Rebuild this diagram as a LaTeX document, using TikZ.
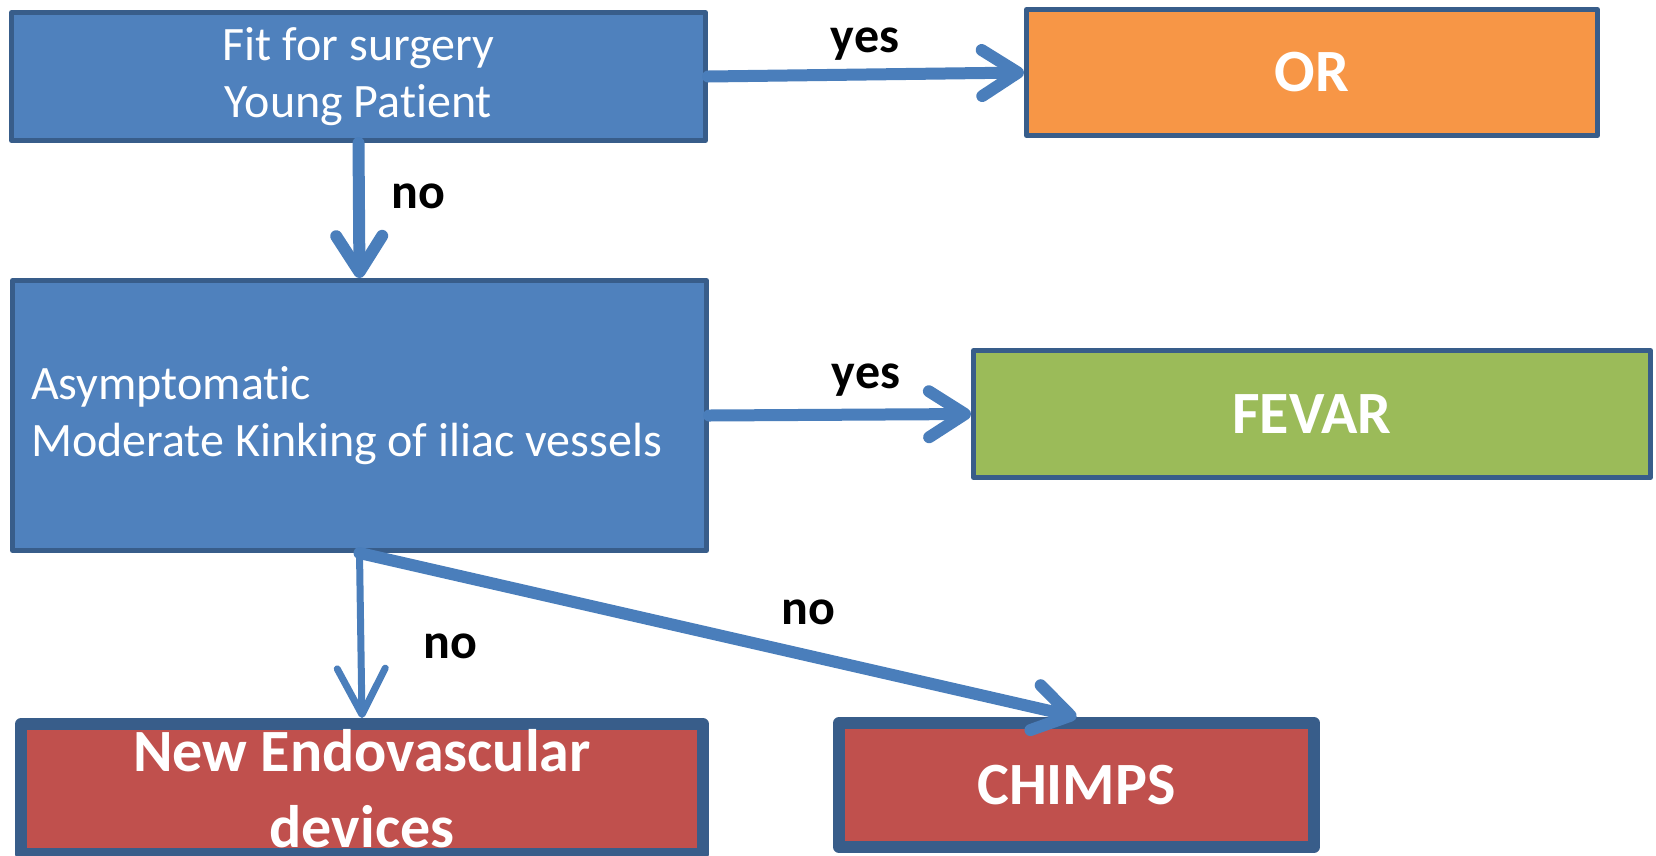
\documentclass[tikz,border=0pt]{standalone}
\usepackage{fontspec}
\setmainfont{Carlito}[RawFeature={-liga,-clig,-calt,-dlig}]
\usetikzlibrary{arrows.meta}
\definecolor{boxblue}{rgb}{0.31,0.506,0.741}
\definecolor{edgeblue}{rgb}{0.22,0.365,0.541}
\definecolor{arrowblue}{rgb}{0.29,0.494,0.733}
\definecolor{orng}{rgb}{0.969,0.588,0.275}
\definecolor{grn}{rgb}{0.608,0.733,0.349}
\definecolor{rd}{rgb}{0.753,0.314,0.302}

\begin{document}
\begin{tikzpicture}[line cap=round,line join=round,x=1pt,y=-1pt,
	qbox/.style={draw=edgeblue,line width=5pt,fill=boxblue,text=white,inner sep=0pt,font=\fontsize{48}{57}\selectfont,execute at begin node={\spaceskip=0pt\xspaceskip=0pt\relax}},
	ansbox/.style={draw=edgeblue,line width=5pt,text=white,inner sep=0pt,font=\bfseries\fontsize{60}{72}\selectfont},
	devbox/.style={ansbox,line width=12pt,fill=rd},
	conn/.style={draw=arrowblue,line width=12pt,-{Straight Barb[round,length=36pt,width=46pt]}},
	lbl/.style={anchor=base,font=\bfseries\fontsize{50}{60}\selectfont}]
	\useasboundingbox (0,0) rectangle (1656,855);
	% questions
	\node[qbox,minimum width=694pt,minimum height=128pt,align=center] (fit) at (358.5,76.5) {Fit for surgery\\Young Patient};
	\node[qbox,minimum width=694pt,minimum height=270pt,text width=657pt,align=left] (asym) at (359.5,415.5) {Asymptomatic\\Moderate Kinking of iliac vessels};
	% answers
	\node[ansbox,fill=orng,minimum width=571pt,minimum height=126pt] (or) at (1312,72.5) {OR};
	\node[ansbox,fill=grn,minimum width=677pt,minimum height=127pt] (fevar) at (1312,414) {FEVAR};
	\node[devbox,minimum width=682pt,minimum height=130pt,align=center,font=\bfseries\fontsize{60}{76}\selectfont] (newdev) at (362,789) {New Endovascular\\devices};
	\node[devbox,minimum width=475pt,minimum height=124pt] (chimps) at (1076.5,785) {CHIMPS};

	\draw[conn] (fit.east) -- (or.west);
	\draw[conn] (fit.south) -- (asym.north);
	\draw[conn] (asym.east) -- (fevar.west);
	\draw[conn,line width=7pt,-{Straight Barb[round,length=46pt,width=48pt]}] (asym.south) -- (newdev.north);
	\draw[conn] (asym.south) -- (chimps.north);

	\node[lbl] (yes1) at (865,52) {yes};
	\node[lbl] (no1) at (418,208) {no};
	\node[lbl] (yes2) at (866,388) {yes};
	\node[lbl] (no2) at (450,658) {no};
	\node[lbl] (no3) at (808,624) {no};
\end{tikzpicture}
\end{document}
